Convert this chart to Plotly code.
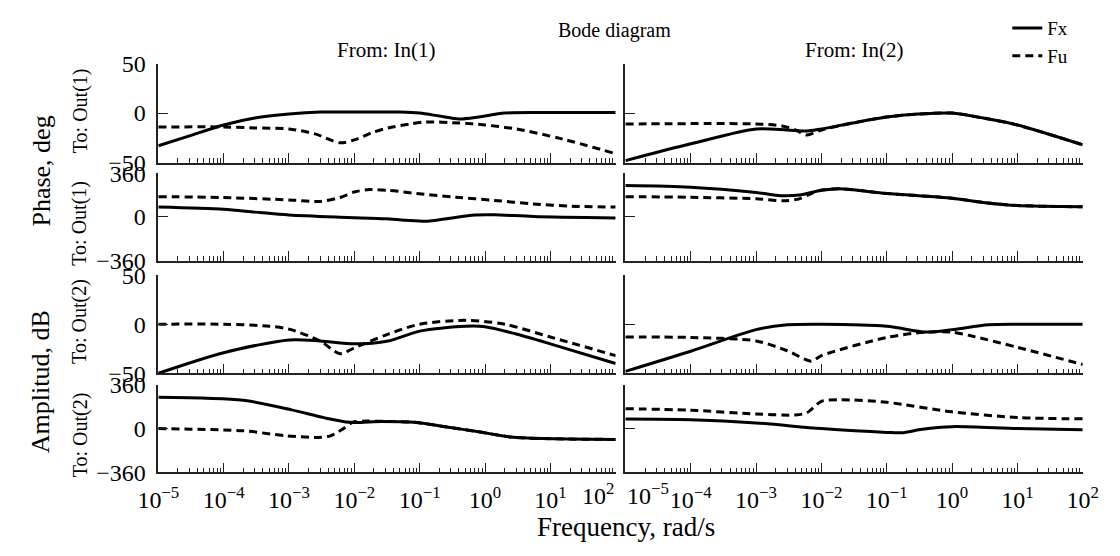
import plotly.graph_objects as go
from plotly.subplots import make_subplots

# ---------------- data ----------------
# Row 1, col 1 (To: Out(1), From: In(1))
f11_fx = [1e-5, 3e-5, 1e-4, 3e-4, 1e-3, 3e-3, 1e-2, 5e-2, 0.1, 0.2, 0.4, 0.8, 2, 10, 100]
v11_fx = [-33, -23, -12, -5, -1, 1, 1, 1, 0, -3, -6, -4, 0, 0.5, 0.5]
f11_fu = [1e-5, 1e-4, 3e-4, 1e-3, 2.5e-3, 6e-3, 1e-2, 2e-2, 3.3e-2, 0.07, 0.12, 0.4, 1, 3, 15, 100]
v11_fu = [-14, -14, -15, -16, -21, -30, -27, -19, -15, -11, -9, -10, -12, -16, -26, -41]

# Row 2, col 1
f21_fx = [1e-5, 1e-4, 3e-4, 1e-3, 6e-3, 1e-2, 3e-2, 6e-2, 0.13, 0.26, 0.7, 1.4, 5.5, 100]
v21_fx = [81, 63, 40, 16, -2, -6, -15, -26, -34, -14, 16, 18, 5, -8]
f21_fu = [1e-5, 1e-4, 1e-3, 3e-3, 6e-3, 1e-2, 1.7e-2, 3.3e-2, 0.09, 0.36, 1.4, 5.5, 21, 100]
v21_fu = [167, 160, 140, 128, 160, 205, 225, 219, 193, 162, 136, 107, 89, 81]

# Row 3, col 1
f31_fx = [1e-5, 1e-4, 1e-3, 3e-3, 1e-2, 3.3e-2, 0.1, 0.5, 1, 3, 10, 100]
v31_fx = [-50, -29, -16, -17, -20, -17, -7, -2, -2.5, -10, -20, -40]
f31_fu = [1e-5, 1e-4, 5e-4, 1e-3, 3e-3, 6e-3, 1e-2, 3.3e-2, 0.1, 0.5, 2, 10, 100]
v31_fu = [0, 0, -2, -5, -17, -30, -24, -10, 0, 4, 0, -13, -32]

# Row 4, col 1
f41_fx = [1e-5, 2e-4, 1.1e-3, 3.4e-3, 8.5e-3, 2.6e-2, 8.3e-2, 0.26, 0.8, 2.5, 7.8, 100]
v41_fx = [257, 232, 154, 90, 52, 59, 52, 13, -26, -69, -82, -89]
f41_fu = [1e-5, 2e-4, 9e-4, 2.8e-3, 4.3e-3, 6.8e-3, 9.5e-3, 1.5e-2, 2.6e-2, 8.3e-2, 0.26, 0.8, 2.5, 7.8, 100]
v41_fu = [0, -18, -59, -72, -59, 0, 52, 62, 60, 52, 13, -26, -69, -82, -89]

# Row 1, col 2
f12_fx = [1e-5, 1e-4, 1e-3, 3e-3, 6e-3, 1e-2, 3e-2, 0.1, 0.3, 1, 3, 10, 100]
v12_fx = [-48, -31, -16, -17, -18, -16, -10, -4, -1, 0, -5, -12, -32]
f12_fu = [1e-5, 1e-3, 2.5e-3, 4e-3, 6e-3, 1e-2, 3e-2, 0.1, 0.3, 1, 3, 10, 100]
v12_fu = [-11, -11, -13, -17, -22, -17, -10, -4, -1, 0, -5, -12, -32]

# Row 2, col 2
f22_fx = [1e-5, 1e-4, 1e-3, 2.4e-3, 4.6e-3, 1e-2, 1.9e-2, 0.1, 1, 3.5, 10, 100]
v22_fx = [258, 245, 201, 175, 180, 219, 232, 193, 154, 115, 94, 84]
f22_fu = [1e-5, 1e-4, 1e-3, 2.6e-3, 4.6e-3, 7e-3, 1e-2, 1.9e-2, 0.1, 1, 3.5, 10, 100]
v22_fu = [167, 162, 149, 133, 149, 193, 219, 232, 193, 154, 115, 94, 84]

# Row 3, col 2
f32_fx = [1e-5, 1e-4, 1e-3, 3e-3, 1e-2, 0.1, 0.4, 1, 3.6, 10, 100]
v32_fx = [-48, -27.5, -5.5, -0.6, 0, -2, -8, -5.5, -0.6, 0, 0]
f32_fu = [1e-5, 1e-4, 1e-3, 3e-3, 7e-3, 1e-2, 0.1, 0.4, 1, 2, 10, 100]
v32_fu = [-13, -13.5, -17, -27, -37.6, -32, -13.5, -8, -8, -12, -23.5, -41]

# Row 4, col 2
f42_fx = [1e-5, 1e-4, 1e-3, 1e-2, 0.1, 0.17, 0.35, 1, 10, 100]
v42_fx = [78, 73, 47, 0, -31, -34, -5, 16, 0, -10]
f42_fu = [1e-5, 1e-4, 1e-3, 4e-3, 6e-3, 1e-2, 1.9e-2, 0.1, 1, 10, 100]
v42_fu = [164, 151, 120, 112, 130, 224, 237, 216, 138, 91, 80]

freq_decades = [1e-5, 1e-4, 1e-3, 1e-2, 1e-1, 1e0, 1e1, 1e2]
decade_exps = ["−5", "−4", "−3", "−2", "−1", "0", "1", "2"]
dB_ticks = [-50, 0, 50]
deg_ticks = [-360, 0, 360]

panels = [
    (1, 1, f11_fx, v11_fx, f11_fu, v11_fu),
    (2, 1, f21_fx, v21_fx, f21_fu, v21_fu),
    (3, 1, f31_fx, v31_fx, f31_fu, v31_fu),
    (4, 1, f41_fx, v41_fx, f41_fu, v41_fu),
    (1, 2, f12_fx, v12_fx, f12_fu, v12_fu),
    (2, 2, f22_fx, v22_fx, f22_fu, v22_fu),
    (3, 2, f32_fx, v32_fx, f32_fu, v32_fu),
    (4, 2, f42_fx, v42_fx, f42_fu, v42_fu),
]

# ---------------- figure ----------------
W, H = 1120, 556
FONT = "Liberation Serif"
fig = make_subplots(rows=4, cols=2)

col_px = {1: (142, 615), 2: (625, 1098)}
row_px = {1: (53, 157), 2: (168, 260), 3: (275, 378), 4: (390, 482)}

first = True
for r, c, ffx, vfx, ffu, vfu in panels:
    fig.add_trace(go.Scatter(x=ffx, y=vfx, mode="lines", name="Fx",
                             line=dict(color="black", width=3, shape="spline", smoothing=0.8),
                             showlegend=first, legendgroup="Fx"), row=r, col=c)
    fig.add_trace(go.Scatter(x=ffu, y=vfu, mode="lines", name="Fu",
                             line=dict(color="black", width=3, dash="8px,5px", shape="spline", smoothing=0.8),
                             showlegend=first, legendgroup="Fu"), row=r, col=c)
    first = False

minor_vals = [d * k for d in freq_decades[:-1] for k in range(2, 10)]

for r in range(1, 5):
    for c in range(1, 3):
        idx = (r - 1) * 2 + c
        xa = "xaxis" if idx == 1 else f"xaxis{idx}"
        ya = "yaxis" if idx == 1 else f"yaxis{idx}"
        x0, x1 = col_px[c]
        t, b = row_px[r]
        ticktext = [f"10<sup>{e}</sup>" for e in decade_exps]
        if c == 1:
            ticktext[-1] = ""
        else:
            ticktext[0] = ""
        fig.layout[xa].update(
            type="log", range=[-5, 2], domain=[x0 / W, x1 / W],
            showline=True, linecolor="#222", linewidth=1.5,
            ticks="inside", ticklen=10, tickwidth=1.3, tickcolor="#222",
            tickmode="array", tickvals=freq_decades, ticktext=ticktext,
            showticklabels=(r == 4), showgrid=False, zeroline=False,
            ticklabelstandoff=5,
            tickfont=dict(family=FONT, size=24, color="black"),
            minor=dict(tickmode="array", tickvals=minor_vals, ticks="inside",
                       ticklen=5, tickwidth=1.2, tickcolor="#222", showgrid=False),
        )
        yt = dB_ticks if r in (1, 3) else deg_ticks
        fig.layout[ya].update(
            range=[yt[0], yt[-1]], domain=[1 - b / H, 1 - t / H],
            showline=True, linecolor="#222", linewidth=1.5,
            ticks="inside", ticklen=10, tickwidth=1.3, tickcolor="#222",
            tickmode="array", tickvals=yt, ticktext=[f"{v:d}".replace("-", "−") for v in yt],
            showticklabels=(c == 1), showgrid=False, zeroline=False,
            ticklabelstandoff=6,
            tickfont=dict(family=FONT, size=24, color="black"),
        )

# edge tick labels shifted sideways to avoid overlap
fig.add_annotation(x=2, y=-360, xref="x7", yref="y7", yshift=-5, text="10<sup>2</sup>",
                   showarrow=False, xanchor="right", yanchor="top",
                   font=dict(family=FONT, size=24, color="black"))
fig.add_annotation(x=-5, y=-360, xref="x8", yref="y8", yshift=-5, text="10<sup>−5</sup>",
                   showarrow=False, xanchor="left", yanchor="top",
                   font=dict(family=FONT, size=24, color="black"))

def ann(text, xp, yp, size, angle=0):
    fig.add_annotation(x=xp / W, y=1 - yp / H, xref="paper", yref="paper", text=text,
                       showarrow=False, textangle=angle, xanchor="center", yanchor="middle",
                       font=dict(family=FONT, size=size, color="black"))

ann("Bode diagram", 614, 18, 20)
ann("From: In(1)", 378.5, 39, 21)
ann("From: In(2)", 861.5, 39, 21)
ann("Phase, deg", 21, 166, 26, -90)
ann("Amplitud, dB", 21, 387, 26, -90)
ann("To: Out(1)", 61, 102, 20, -90)
ann("To: Out(1)", 61, 220, 20, -90)
ann("To: Out(2)", 61, 323, 20, -90)
ann("To: Out(2)", 61, 442, 20, -90)
ann("Frequency, rad/s", 626, 539, 27)

fig.update_layout(
    width=W, height=H, margin=dict(l=0, r=0, t=0, b=0),
    paper_bgcolor="white", plot_bgcolor="white",
    font=dict(family=FONT, color="black"),
    legend=dict(x=1020 / W, y=1.0 + 4 / H, xanchor="left", yanchor="top",
                font=dict(family=FONT, size=19, color="black"),
                itemwidth=30, bgcolor="rgba(0,0,0,0)", tracegroupgap=0),
)

fig.write_html("out.html", config={"displayModeBar": False},
               post_script="document.body.style.margin='0px';")
